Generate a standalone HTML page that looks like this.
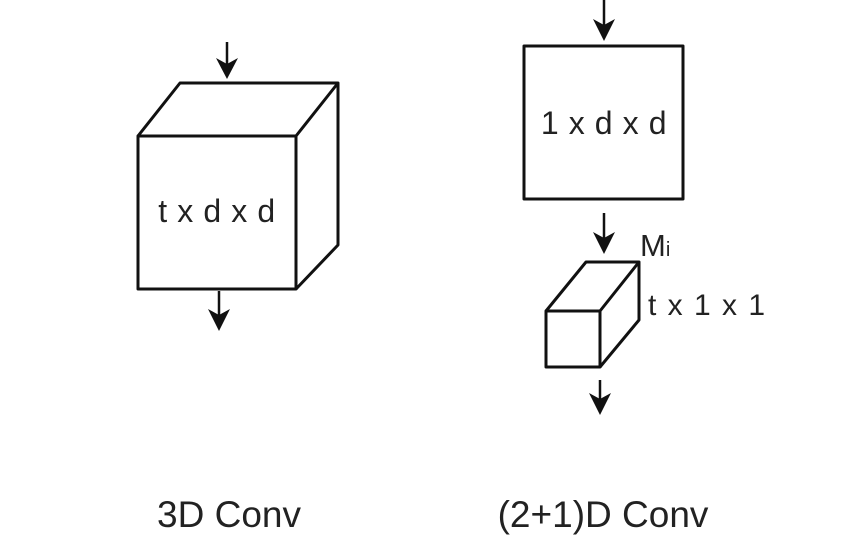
<!DOCTYPE html>
<html><head><style>body{margin:0;background:#fff}</style></head><body>
<svg width="852" height="542" xmlns="http://www.w3.org/2000/svg" font-family="Liberation Sans, sans-serif" fill="none" stroke="#111" stroke-width="3" stroke-linejoin="round">
<rect x="138" y="136" width="158" height="153"/>
<path d="M138 136 L180 83 L338 83 L296 136 M338 83 L338 245 L296 289"/>
<g stroke-width="2.5">
<line x1="227" y1="42" x2="227" y2="70"/><line x1="219" y1="291" x2="219" y2="320"/>
<line x1="604" y1="0" x2="604" y2="30"/><line x1="604" y1="213" x2="604" y2="243"/>
<line x1="600" y1="380" x2="600" y2="405"/>
</g>
<g fill="#111" stroke="none">
<path d="M216 58 L227 79 L238 58 L227 64Z"/>
<path d="M208 309 L219 331 L230 309 L219 315Z"/>
<path d="M593 19 L604 41 L615 19 L604 25Z"/>
<path d="M593 232 L604 254 L615 232 L604 238Z"/>
<path d="M589 393 L600 415 L611 393 L600 399Z"/>
</g>
<rect x="524" y="46" width="159" height="153"/>
<rect x="546" y="311" width="54" height="56"/>
<path d="M546 311 L586 262 L639 262 L600 311 M639 262 L639 320 L600 367"/>
<g fill="#222" stroke="none" font-size="32">
<text x="217" y="222" text-anchor="middle" letter-spacing="0.6">t x d x d</text>
<text x="604" y="134" text-anchor="middle" letter-spacing="0.6">1 x d x d</text>
<text x="648" y="315" font-size="30" letter-spacing="1.5">t x 1 x 1</text>
<text x="640" y="256" font-size="31">M<tspan font-size="20">i</tspan></text>
<text x="229" y="527" text-anchor="middle" font-size="37">3D Conv</text>
<text x="603" y="527" text-anchor="middle" font-size="37">(2+1)D Conv</text>
</g>
</svg>
</body></html>
